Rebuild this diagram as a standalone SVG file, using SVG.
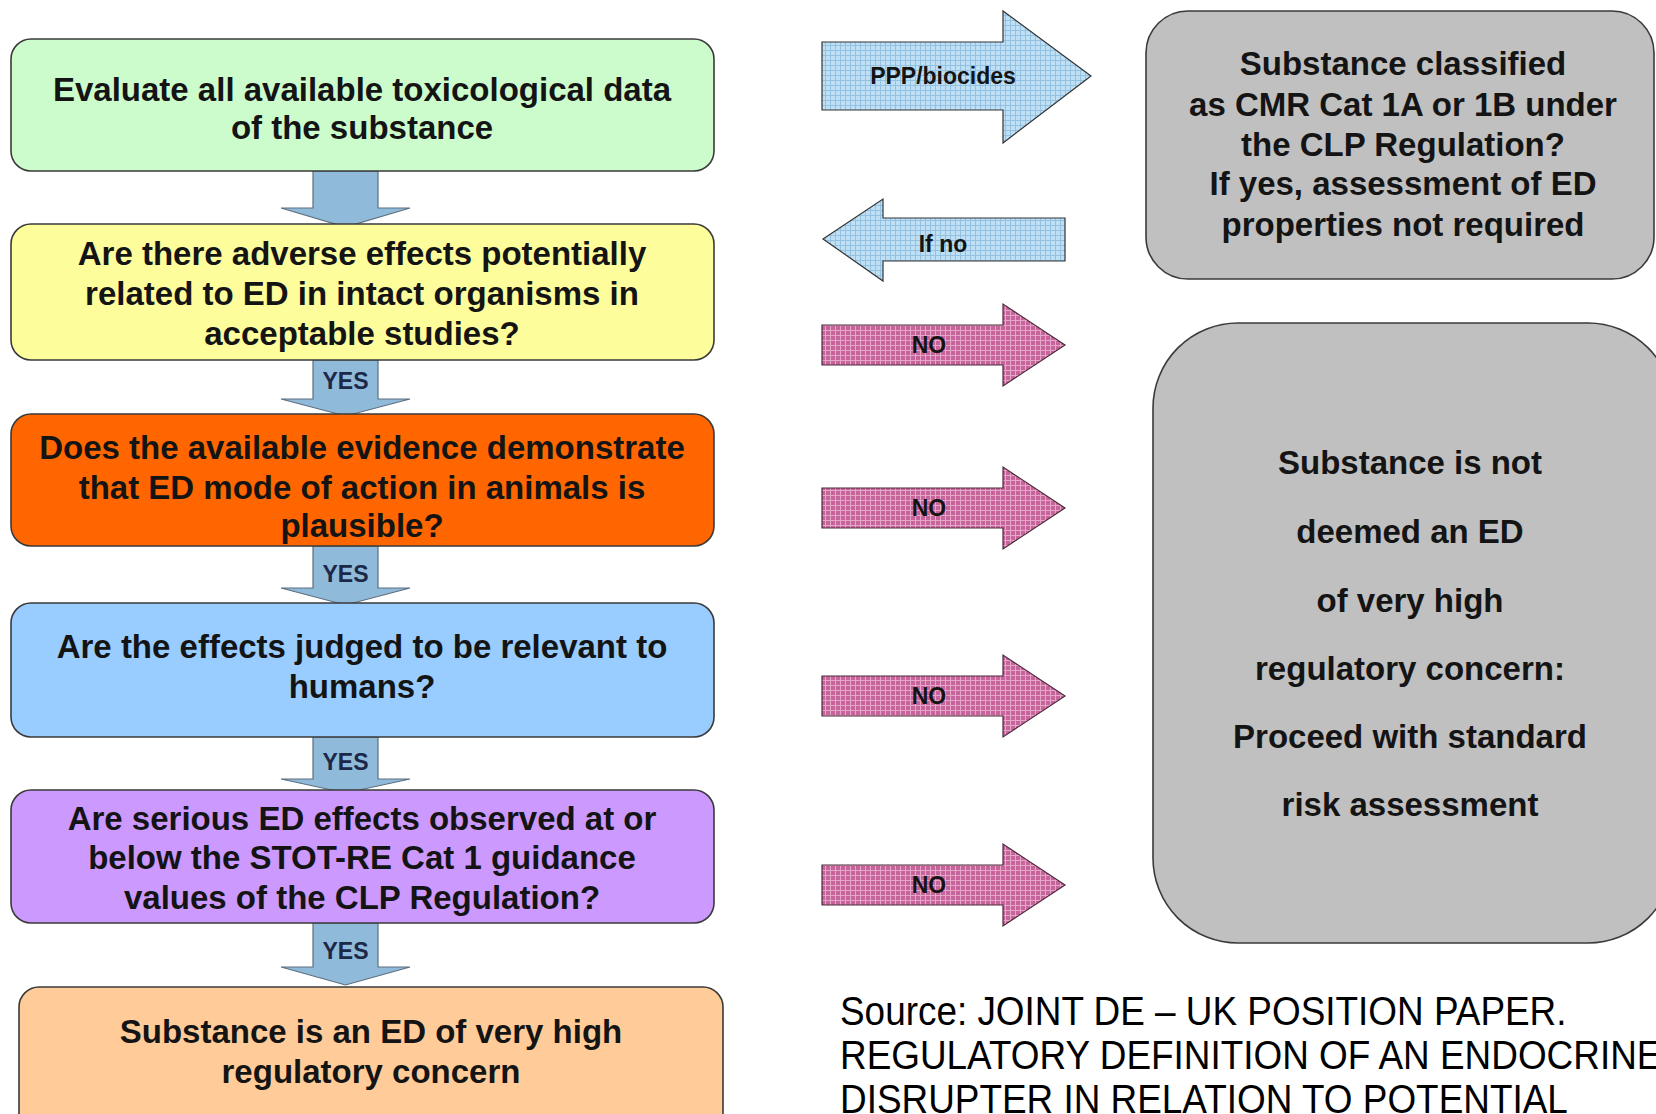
<svg xmlns="http://www.w3.org/2000/svg" width="1656" height="1114" viewBox="0 0 1656 1114">
<defs>
<pattern id="gridBlue" width="5" height="5" patternUnits="userSpaceOnUse">
<rect width="5" height="5" fill="#bfe0f4"/>
<path d="M0 0.5H5M0.5 0V5" stroke="#93c1e2" stroke-width="1"/>
</pattern>
<pattern id="gridPink" width="5" height="5" patternUnits="userSpaceOnUse">
<rect width="5" height="5" fill="#c8649c"/>
<path d="M0 0.5H5M0.5 0V5" stroke="#e6a6c8" stroke-width="1"/>
</pattern>
</defs>
<style>
.box{stroke:#3a3a3a;stroke-width:1.6}
.t{font-family:"Liberation Sans",Arial,sans-serif;font-weight:bold;font-size:33px;fill:#141414;text-anchor:middle}
.down{fill:#90bad9;stroke:#5d6f80;stroke-width:1.2}
.yes{font-family:"Liberation Sans",Arial,sans-serif;font-weight:bold;font-size:23px;fill:#1c2848;text-anchor:middle}
.blue{fill:url(#gridBlue);stroke:#333;stroke-width:1.2}
.pink{fill:url(#gridPink);stroke:#4a2a3a;stroke-width:1.2}
.lab{font-family:"Liberation Sans",Arial,sans-serif;font-weight:bold;font-size:23px;fill:#141414;text-anchor:middle}
.src{font-family:"Liberation Sans",Arial,sans-serif;font-size:41px;fill:#000}
</style>
<rect width="1656" height="1114" fill="#ffffff"/>

<g id="connectors">
<path class="down" d="M313 171H378V208H410L345.5 227L281 208H313Z"/>
<path class="down" d="M313 360H378V399H410L345.5 416L281 399H313Z"/>
<text class="yes" x="345.5" y="389">YES</text>
<path class="down" d="M313 546H378V588H410L345.5 605L281 588H313Z"/>
<text class="yes" x="345.5" y="582">YES</text>
<path class="down" d="M313 737H378V779H410L345.5 793L281 779H313Z"/>
<text class="yes" x="345.5" y="770">YES</text>
<path class="down" d="M313 923H378V967H410L345.5 985L281 967H313Z"/>
<text class="yes" x="345.5" y="959">YES</text>

<path class="blue" d="M822 42H1003V11L1091 76L1003 143V110H822Z"/>
<text class="lab" x="943" y="84" font-size="24">PPP/biocides</text>
<path class="blue" d="M1065 218H883V199L823 239L883 281V261H1065Z"/>
<text class="lab" x="943" y="252">If no</text>

<path class="pink" d="M822 325H1003V304L1065 345L1003 386V365H822Z"/>
<text class="lab" x="929" y="353">NO</text>
<path class="pink" d="M822 488H1003V467L1065 508L1003 549V528H822Z"/>
<text class="lab" x="929" y="516">NO</text>
<path class="pink" d="M822 676H1003V655L1065 696L1003 737V716H822Z"/>
<text class="lab" x="929" y="704">NO</text>
<path class="pink" d="M822 865H1003V844L1065 885L1003 926V905H822Z"/>
<text class="lab" x="929" y="893">NO</text>
</g>

<g id="node-evaluate">
<rect class="box" x="11" y="39" width="703" height="132" rx="20" fill="#ccfccc"/>
<text class="t" x="362" y="101">Evaluate all available toxicological data</text>
<text class="t" x="362" y="139">of the substance</text>
</g>

<g id="node-adverse">
<rect class="box" x="11" y="224" width="703" height="136" rx="20" fill="#fdfd9c"/>
<text class="t" x="362" y="265">Are there adverse effects potentially</text>
<text class="t" x="362" y="305">related to ED in intact organisms in</text>
<text class="t" x="362" y="345">acceptable studies?</text>
</g>

<g id="node-mode">
<rect class="box" x="11" y="414" width="703" height="132" rx="20" fill="#ff6600"/>
<text class="t" x="362" y="459">Does the available evidence demonstrate</text>
<text class="t" x="362" y="499">that ED mode of action in animals is</text>
<text class="t" x="362" y="537">plausible?</text>
</g>

<g id="node-relevant">
<rect class="box" x="11" y="603" width="703" height="134" rx="20" fill="#99ccff"/>
<text class="t" x="362" y="658">Are the effects judged to be relevant to</text>
<text class="t" x="362" y="698">humans?</text>
</g>

<g id="node-serious">
<rect class="box" x="11" y="790" width="703" height="133" rx="20" fill="#cc99ff"/>
<text class="t" x="362" y="830">Are serious ED effects observed at or</text>
<text class="t" x="362" y="869">below the STOT-RE Cat 1 guidance</text>
<text class="t" x="362" y="909">values of the CLP Regulation?</text>
</g>

<g id="node-concern">
<rect class="box" x="19" y="987" width="704" height="150" rx="20" fill="#ffcc99"/>
<text class="t" x="371" y="1043">Substance is an ED of very high</text>
<text class="t" x="371" y="1083">regulatory concern</text>
</g>

<g id="node-cmr">
<rect class="box" x="1146" y="11" width="508" height="268" rx="42" fill="#c0c0c0"/>
<text class="t" x="1403" y="75">Substance classified</text>
<text class="t" x="1403" y="116">as CMR Cat 1A or 1B under</text>
<text class="t" x="1403" y="156">the CLP Regulation?</text>
<text class="t" x="1403" y="195">If yes, assessment of ED</text>
<text class="t" x="1403" y="236">properties not required</text>
</g>

<g id="node-not-ed">
<rect class="box" x="1153" y="323" width="520" height="620" rx="85" fill="#c0c0c0"/>
<text class="t" x="1410" y="474">Substance is not</text>
<text class="t" x="1410" y="543">deemed an ED</text>
<text class="t" x="1410" y="612">of very high</text>
<text class="t" x="1410" y="680">regulatory concern:</text>
<text class="t" x="1410" y="748">Proceed with standard</text>
<text class="t" x="1410" y="816">risk assessment</text>
</g>

<g id="source" transform="translate(840 0) scale(0.9 1)">
<text class="src" x="0" y="1025">Source: JOINT DE – UK POSITION PAPER.</text>
<text class="src" x="0" y="1069">REGULATORY DEFINITION OF AN ENDOCRINE</text>
<text class="src" x="0" y="1113">DISRUPTER IN RELATION TO POTENTIAL</text>
</g>
</svg>
